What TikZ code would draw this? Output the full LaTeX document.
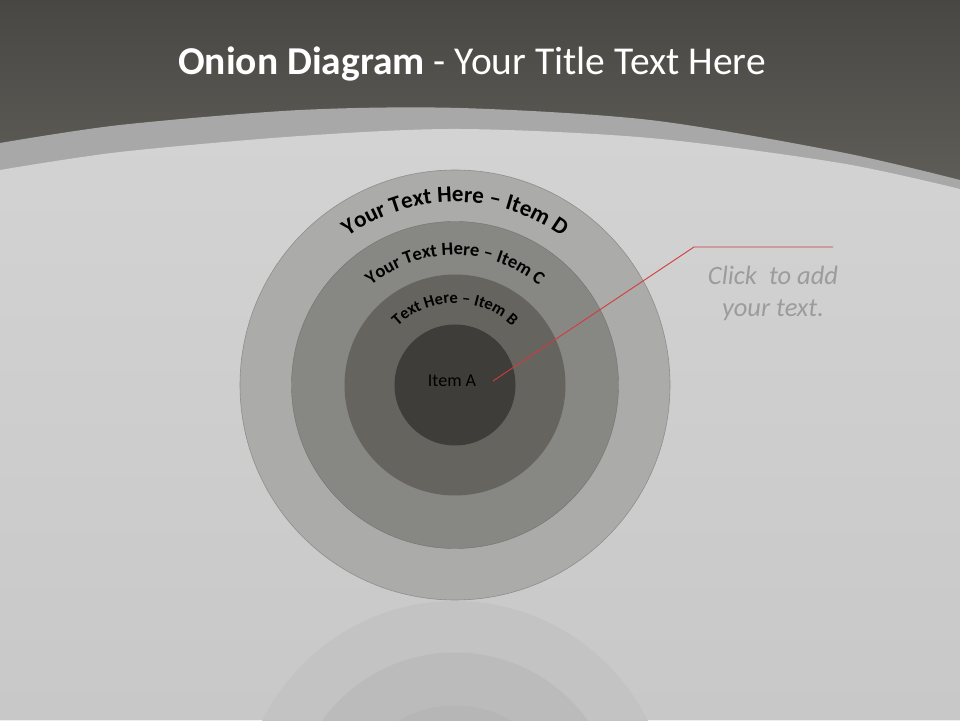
\documentclass[tikz,border=0pt]{standalone}
\usepackage{fontspec}
\setmainfont{Carlito}
\usetikzlibrary{decorations.text}
\definecolor{hdrtop}{HTML}{484743}
\definecolor{hdrbot}{HTML}{66655F}
\definecolor{bandc}{HTML}{A8A8A8}
\definecolor{maintop}{HTML}{D3D3D3}
\definecolor{mainbot}{HTML}{C8C8C8}
\definecolor{cD}{HTML}{ABABA9}
\definecolor{cC}{HTML}{878783}
\definecolor{cB}{HTML}{65645F}
\definecolor{cA}{HTML}{3E3D3A}
\definecolor{ringline}{HTML}{8E8E8C}
\definecolor{rD}{HTML}{C3C3C3}
\definecolor{rC}{HTML}{BBBBBB}
\definecolor{rB}{HTML}{B6B6B6}
\definecolor{redline}{HTML}{D43A3A}
\definecolor{callgray}{HTML}{9C9C9C}
\tikzset{
  ring/.style={circle, inner sep=0pt, outer sep=0pt, minimum size=#1},
  arctext/.style={decorate, decoration={text along path, text align=center, text={#1}}},
}
\begin{document}
\begin{tikzpicture}[x=1pt,y=1pt]
\useasboundingbox (0,0) rectangle (960,720);
% background
\shade[top color=hdrtop, bottom color=hdrbot] (0,470) rectangle (960,720);
\fill[bandc] plot[smooth] coordinates {(0,577) (120,595) (300,610) (460,612) (650,600) (840,568) (960,540)} -- (960,0) -- (0,0) -- cycle;
\shade[top color=maintop, bottom color=mainbot] plot[smooth] coordinates {(0,550) (120,568) (300,584) (460,591) (650,582) (840,557) (960,531)} -- (960,0) -- (0,0) -- cycle;
% title
\node[anchor=base, text=white, font=\fontsize{39.5}{39.5}\selectfont] (title) at (472,645) {\textbf{Onion Diagram} - Your Title Text Here};
% reflection
\node[ring=430pt, fill=rD] (rD) at (455,-96) {};
\node[ring=327pt, fill=rC] (rC) at (455,-96) {};
\node[ring=221pt, fill=rB] (rB) at (455,-96) {};
% onion
\node[ring=430pt, fill=cD, draw=ringline, line width=0.6pt] (D) at (455,335) {};
\node[ring=327pt, fill=cC, draw=ringline!80!black, line width=0.4pt] (C) at (455,335) {};
\node[ring=221pt, fill=cB] (B) at (455,335) {};
\node[ring=121pt, fill=cA] (A) at (455,335) {};
\node[font=\fontsize{18}{18}\selectfont, text=black] (Atext) at (452,339) {Item A};
% curved labels
\path[arctext={|\fontsize{23}{23}\selectfont\bfseries|Your Text Here – Item D}] (D.center) ++(180:183) arc[start angle=180, end angle=0, radius=183];
\path[arctext={|\fontsize{18.5}{18.5}\selectfont\bfseries|Your Text Here – Item C}] (C.center) ++(180:130) arc[start angle=180, end angle=0, radius=130];
\path[arctext={|\fontsize{16.5}{16.5}\selectfont\bfseries|Text Here – Item B}] (B.center) ++(180:82) arc[start angle=180, end angle=0, radius=82];
% callout
\coordinate (pstart) at (493,339);
\coordinate (pknee) at (694,473);
\coordinate (pend) at (833,473);
\draw[redline, line width=0.9pt] (pstart) -- (pknee) -- (pend);
\node[anchor=base, text=callgray, font=\itshape\fontsize{26.5}{26.5}\selectfont] (call1) at (773,435) {Click\ \ to add};
\node[anchor=base, text=callgray, font=\itshape\fontsize{26.5}{26.5}\selectfont] (call2) at (773,403) {your text.};
\end{tikzpicture}
\end{document}
